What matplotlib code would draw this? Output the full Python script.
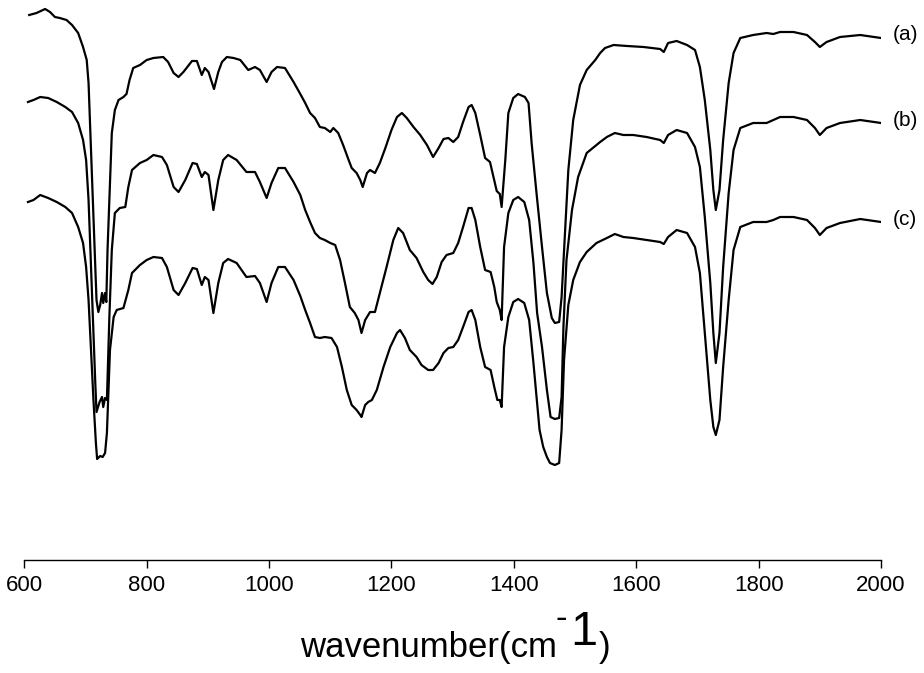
import matplotlib
matplotlib.use('Agg')
import matplotlib.pyplot as plt

plt.rcParams['font.family'] = ['Liberation Sans', 'DejaVu Sans']

# curve (a)
wn_a = [608, 620, 634, 642, 650, 658, 669, 678, 688, 696,
        702, 705, 707, 710, 713, 716, 718, 721, 724, 727,
        729, 732, 734, 736, 739, 743, 748, 754, 762, 767,
        772, 778, 789, 800, 811, 827, 835, 844, 852, 860,
        874, 882, 890, 895, 901, 910, 917, 923, 931, 942,
        953, 966, 977, 985, 996, 1004, 1013, 1026, 1040, 1051,
        1059, 1067, 1075, 1083, 1091, 1100, 1105, 1113, 1121, 1130,
        1135, 1143, 1149, 1153, 1160, 1165, 1173, 1181, 1190, 1200,
        1209, 1217, 1225, 1236, 1247, 1258, 1268, 1277, 1285, 1293,
        1301, 1309, 1317, 1326, 1331, 1337, 1345, 1353, 1361, 1367,
        1372, 1377, 1380, 1386, 1391, 1399, 1407, 1418, 1424, 1429,
        1437, 1446, 1454, 1462, 1467, 1474, 1478, 1484, 1489, 1497,
        1508, 1519, 1533, 1541, 1549, 1563, 1585, 1612, 1639, 1645,
        1652, 1666, 1683, 1696, 1704, 1712, 1721, 1726, 1730, 1736,
        1742, 1751, 1759, 1770, 1791, 1813, 1824, 1835, 1857, 1879,
        1892, 1900, 1911, 1933, 1966, 2000]
ta = [54.5, 54.7, 55.1, 54.8, 54.3, 54.2, 54.0, 53.5, 52.7, 51.3,
      50.0, 47.7, 44.3, 39.3, 34.3, 29.3, 26.0, 24.8, 25.5, 26.7,
      25.7, 26.7, 25.8, 31.0, 36.0, 42.7, 45.0, 46.0, 46.3, 46.6,
      48.0, 49.2, 49.5, 50.0, 50.2, 50.3, 49.8, 48.7, 48.3, 48.8,
      49.9, 49.9, 48.5, 49.2, 48.8, 47.1, 48.8, 49.8, 50.3, 50.2,
      50.0, 49.0, 49.3, 49.0, 47.8, 48.8, 49.3, 49.2, 47.8, 46.6,
      45.7, 44.7, 44.2, 43.3, 43.2, 42.8, 43.2, 42.7, 41.5, 40.0,
      39.2, 38.7, 38.0, 37.3, 38.7, 39.0, 38.7, 39.7, 41.2, 43.0,
      44.3, 44.7, 44.2, 43.3, 42.5, 41.5, 40.3, 41.2, 42.1, 42.2,
      41.8, 42.3, 43.8, 45.3, 45.5, 44.7, 42.5, 40.2, 39.8, 38.2,
      36.9, 36.6, 35.3, 40.0, 44.7, 46.2, 46.6, 46.3, 45.7, 41.7,
      36.7, 31.3, 26.7, 24.2, 23.7, 23.8, 26.3, 33.2, 39.0, 44.0,
      47.5, 49.0, 50.0, 50.7, 51.2, 51.5, 51.4, 51.3, 51.1, 50.8,
      51.7, 51.9, 51.5, 51.0, 49.3, 46.0, 41.0, 37.0, 35.0, 37.0,
      42.0, 47.7, 50.7, 52.2, 52.5, 52.7, 52.6, 52.8, 52.8, 52.5,
      51.8, 51.3, 51.8, 52.3, 52.5, 52.2]

# curve (b)
wn_b = [606, 615, 626, 639, 653, 667, 678, 688, 696, 701,
        705, 709, 713, 716, 718, 723, 727, 729, 732, 735,
        739, 743, 748, 756, 765, 770, 776, 789, 800, 811,
        825, 833, 844, 852, 863, 875, 882, 890, 895, 901,
        909, 917, 925, 933, 947, 963, 977, 985, 996, 1004,
        1015, 1026, 1040, 1051, 1059, 1067, 1075, 1083, 1091, 1100,
        1108, 1116, 1124, 1132, 1140, 1146, 1151, 1157, 1165, 1173,
        1181, 1192, 1203, 1211, 1219, 1230, 1241, 1252, 1260, 1267,
        1274, 1282, 1290, 1301, 1309, 1317, 1326, 1331, 1337, 1345,
        1353, 1362, 1368, 1372, 1377, 1380, 1384, 1391, 1399, 1407,
        1417, 1425, 1432, 1438, 1446, 1454, 1460, 1467, 1474, 1478,
        1481, 1486, 1495, 1505, 1519, 1541, 1552, 1565, 1579, 1595,
        1617, 1639, 1645, 1652, 1666, 1683, 1696, 1704, 1712, 1721,
        1726, 1730, 1736, 1742, 1751, 1759, 1770, 1791, 1813, 1824,
        1835, 1857, 1879, 1892, 1900, 1911, 1933, 1966, 2000]
tb = [45.8, 46.0, 46.3, 46.2, 45.8, 45.3, 44.8, 43.7, 42.0, 40.0,
      36.0, 29.3, 22.7, 17.7, 14.8, 15.8, 16.3, 15.3, 16.2, 16.0,
      24.3, 31.0, 34.7, 35.2, 35.3, 37.3, 39.0, 39.7, 40.0, 40.5,
      40.3, 39.5, 37.3, 36.8, 38.0, 39.7, 39.6, 38.3, 38.8, 38.5,
      35.0, 38.0, 40.0, 40.5, 40.0, 38.8, 38.8, 37.8, 36.2, 37.7,
      39.2, 39.2, 37.8, 36.5, 35.0, 33.8, 32.7, 32.2, 32.0, 31.7,
      31.5, 30.0, 27.7, 25.3, 24.7, 24.0, 22.7, 24.0, 24.8, 24.8,
      26.7, 29.3, 32.0, 33.2, 32.7, 31.0, 30.2, 28.8, 28.0, 27.6,
      28.3, 29.8, 30.5, 30.7, 31.7, 33.3, 35.2, 35.2, 34.0, 31.3,
      29.0, 28.8, 27.3, 25.8, 25.0, 24.0, 31.3, 34.7, 36.0, 36.3,
      35.8, 34.0, 29.7, 24.7, 21.3, 17.0, 14.3, 14.1, 14.2, 16.3,
      23.3, 30.0, 35.0, 38.3, 40.7, 41.8, 42.3, 42.7, 42.5, 42.5,
      42.3, 42.0, 41.7, 42.5, 43.0, 42.7, 41.3, 39.3, 34.3, 27.7,
      22.7, 19.7, 22.7, 29.3, 36.7, 41.0, 43.2, 43.7, 43.7, 44.0,
      44.3, 44.3, 44.0, 43.2, 42.5, 43.2, 43.7, 44.0, 43.7]

# curve (c)
wn_c = [606, 615, 626, 639, 653, 667, 678, 688, 696, 701,
        705, 709, 713, 717, 719, 724, 728, 732, 735, 737,
        740, 746, 751, 762, 770, 776, 789, 800, 811, 825,
        833, 844, 852, 863, 875, 882, 890, 895, 901, 909,
        917, 925, 933, 947, 963, 977, 985, 996, 1004, 1015,
        1026, 1040, 1051, 1059, 1067, 1075, 1083, 1091, 1102, 1111,
        1119, 1127, 1135, 1143, 1149, 1151, 1157, 1162, 1168, 1176,
        1187, 1198, 1209, 1214, 1222, 1230, 1241, 1249, 1260, 1268,
        1277, 1285, 1293, 1301, 1309, 1317, 1326, 1331, 1337, 1345,
        1353, 1362, 1368, 1373, 1377, 1380, 1384, 1391, 1399, 1407,
        1417, 1425, 1432, 1437, 1442, 1448, 1454, 1459, 1467, 1474,
        1478, 1482, 1489, 1497, 1508, 1519, 1535, 1552, 1565, 1579,
        1595, 1617, 1639, 1645, 1652, 1666, 1683, 1696, 1704, 1712,
        1721, 1726, 1730, 1736, 1742, 1751, 1759, 1770, 1791, 1813,
        1824, 1835, 1857, 1879, 1892, 1900, 1911, 1933, 1966, 2000]
tc = [35.8, 36.0, 36.5, 36.2, 35.8, 35.3, 34.7, 33.3, 31.7, 29.3,
      26.0, 21.0, 16.0, 11.7, 10.1, 10.4, 10.3, 10.7, 12.7, 16.0,
      21.0, 24.3, 25.0, 25.2, 27.0, 28.7, 29.5, 30.0, 30.3, 30.2,
      29.3, 27.0, 26.5, 27.7, 29.2, 29.1, 27.5, 28.3, 28.0, 24.7,
      27.7, 29.7, 30.1, 29.7, 28.3, 28.4, 27.7, 25.8, 27.7, 29.3,
      29.3, 28.0, 26.4, 25.0, 23.7, 22.3, 22.2, 22.3, 22.2, 21.3,
      19.3, 17.0, 15.5, 15.0, 14.5, 14.3, 15.5, 15.8, 16.0, 17.0,
      19.3, 21.3, 22.7, 23.0, 22.2, 21.0, 20.3, 19.5, 19.0, 19.0,
      19.7, 20.7, 21.2, 21.3, 22.0, 23.3, 24.8, 25.0, 24.0, 21.3,
      19.3, 19.0, 17.3, 16.0, 16.0, 15.3, 21.3, 24.3, 25.8, 26.1,
      25.7, 24.0, 19.7, 16.3, 13.0, 11.3, 10.3, 9.7, 9.5, 9.7,
      13.0, 20.0, 25.5, 28.0, 29.8, 30.8, 31.7, 32.2, 32.6, 32.3,
      32.2, 32.0, 31.8, 31.6, 32.3, 33.0, 32.7, 31.3, 28.7, 22.7,
      16.0, 13.3, 12.5, 14.0, 19.3, 26.0, 31.0, 33.3, 33.8, 33.8,
      34.0, 34.3, 34.3, 34.0, 33.2, 32.5, 33.2, 33.7, 34.1, 33.8]

names = ['(a)', '(b)', '(c)']
xticks = [600, 800, 1000, 1200, 1400, 1600, 1800, 2000]

fig = plt.figure(figsize=(9.24, 6.73), dpi=100)
ax = fig.add_axes([0.0263, 1 - 560 / 673, 0.9272, 560 / 673])

for wn, t in [(wn_a, ta), (wn_b, tb), (wn_c, tc)]:
    ax.plot(wn, t, color='black', lw=1.6)

# 曲线右端的标注
for name, t in zip(names, [ta, tb, tc]):
    ax.text(2019, t[-1] + 0.3, name, fontsize=15, va='center', ha='left', clip_on=False)

ax.set_xlim(600, 2000)
ax.set_ylim(0, 56)
for s in ['top', 'left', 'right']:
    ax.spines[s].set_visible(False)
ax.spines['bottom'].set_linewidth(1.0)
ax.set_yticks([])
ax.set_xticks(xticks)
ax.tick_params(axis='x', direction='out', length=6, width=1, labelsize=16, pad=5)

# x轴标题，上标单独画（原图上标字号比正文大）
y_base = 1 - 657 / 673
t1 = fig.text(300 / 924, y_base, 'wavenumber(cm', fontsize=25, ha='left', va='baseline')
t2 = ax.annotate('-', xy=(1, y_base + 29 / 673), xycoords=(t1, 'figure fraction'),
                 xytext=(-1, 0), textcoords='offset points', fontsize=25,
                 ha='left', va='baseline', annotation_clip=False)
t3 = ax.annotate('1', xy=(1, y_base + 12 / 673), xycoords=(t2, 'figure fraction'),
                 xytext=(2, 0), textcoords='offset points', fontsize=35,
                 ha='left', va='baseline', annotation_clip=False)
ax.annotate(')', xy=(1, y_base), xycoords=(t3, 'figure fraction'),
            xytext=(1.5, 0), textcoords='offset points', fontsize=25,
            ha='left', va='baseline', annotation_clip=False)

fig.savefig('out.png', dpi=100, facecolor='white')
